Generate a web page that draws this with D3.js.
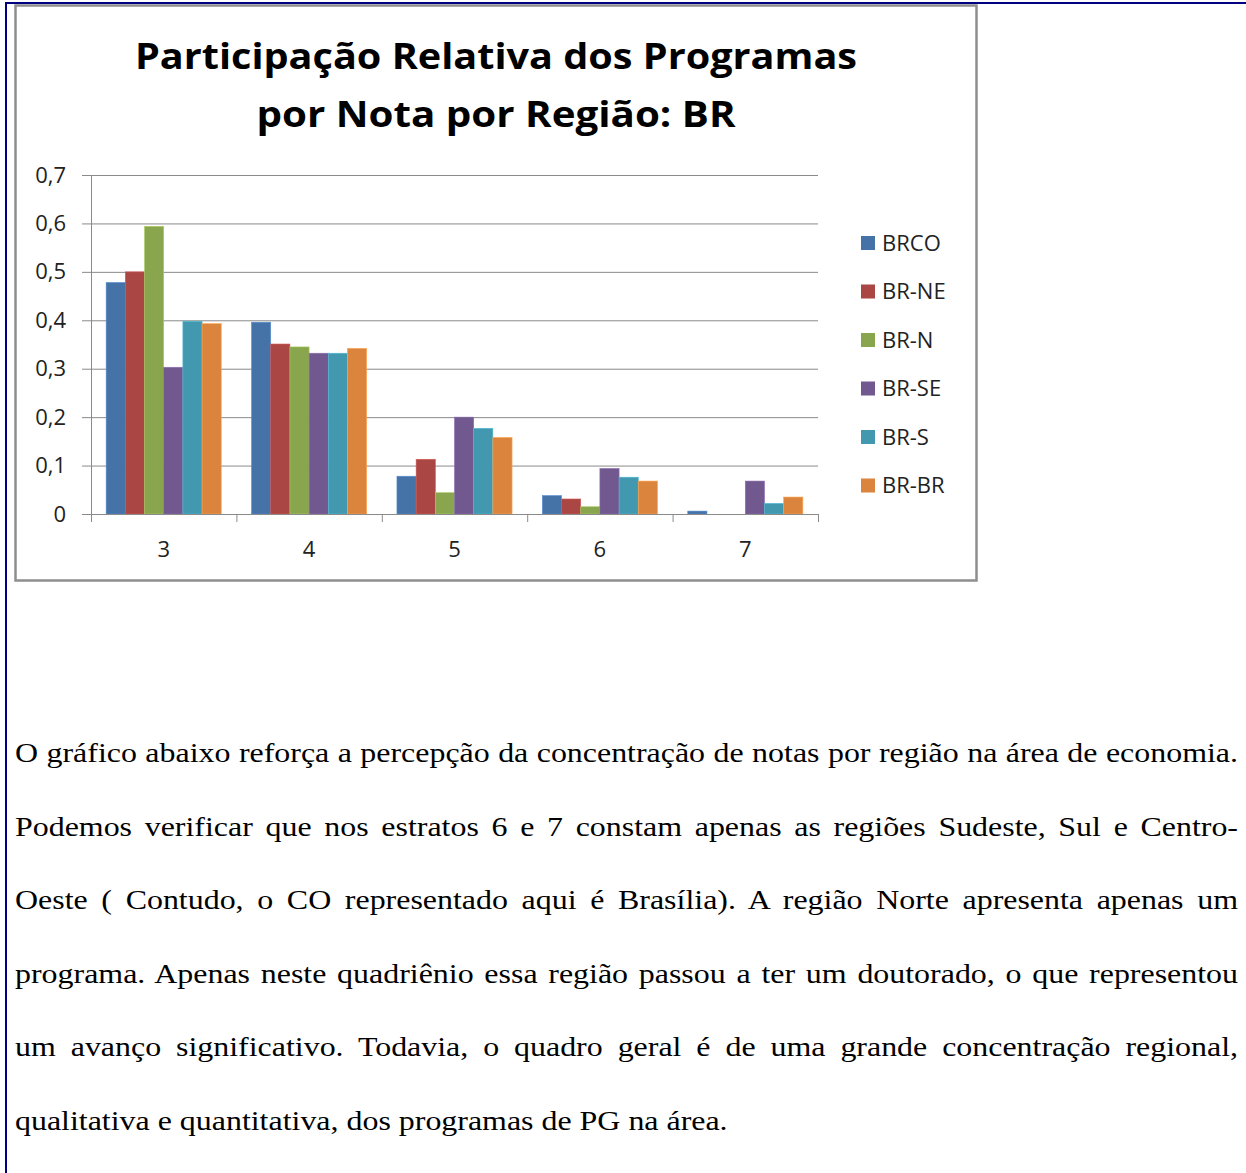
<!DOCTYPE html>
<html>
<head>
<meta charset="utf-8">
<script src="https://cdn.jsdelivr.net/npm/d3@7"></script>
<style>
  body { margin: 0; background: #fff; }
  svg { display: block; }
</style>
</head>
<body>
<div id="chart"></div>
<script>
// chart data
var categories = ["3", "4", "5", "6", "7"];
var seriesNames = ["BRCO", "BR-NE", "BR-N", "BR-SE", "BR-S", "BR-BR"];
var brco = [0.478, 0.396, 0.078, 0.038, 0.006];
var brne = [0.500, 0.351, 0.113, 0.031, 0];
var brn  = [0.594, 0.345, 0.044, 0.015, 0];
var brse = [0.303, 0.332, 0.200, 0.094, 0.068];
var brs  = [0.398, 0.332, 0.177, 0.076, 0.022];
var brbr = [0.393, 0.342, 0.158, 0.068, 0.035];
var yTicks = [0, 0.1, 0.2, 0.3, 0.4, 0.5, 0.6, 0.7];
var yTickLabels = ["0", "0,1", "0,2", "0,3", "0,4", "0,5", "0,6", "0,7"];
var colors = ["#4572A7", "#AA4643", "#89A54E", "#71588F", "#4198AF", "#DB843D"];

var titleLines = ["Participação Relativa dos Programas", "por Nota por Região: BR"];

var paragraph = [
  "O gráfico abaixo reforça a percepção da concentração de notas por região na área de economia.",
  "Podemos verificar que nos estratos 6 e 7 constam apenas as regiões Sudeste, Sul e Centro-",
  "Oeste ( Contudo, o CO representado aqui é Brasília). A região Norte apresenta apenas um",
  "programa. Apenas neste quadriênio essa região passou a ter um doutorado, o que representou",
  "um avanço significativo. Todavia, o quadro geral é de uma grande concentração regional,",
  "qualitativa e quantitativa, dos programas de PG na área."
];

var seriesValues = [brco, brne, brn, brse, brs, brbr];

var svg = d3.select("#chart")
  .append("svg")
    .attr("width", 1246)
    .attr("height", 1173);

// page frame lines
svg.append("line")
  .attr("x1", 5).attr("x2", 1246).attr("y1", 3).attr("y2", 3)
  .attr("stroke", "#000080").attr("stroke-width", 2);
svg.append("line")
  .attr("x1", 6).attr("x2", 6).attr("y1", 2).attr("y2", 1173)
  .attr("stroke", "#000080").attr("stroke-width", 2);

// chart box
svg.append("rect")
  .attr("x", 15.5).attr("y", 5.5)
  .attr("width", 961).attr("height", 575)
  .attr("fill", "#fff")
  .attr("stroke", "#8e8e8e").attr("stroke-width", 2.5);

// title
svg.selectAll(".title")
  .data(titleLines)
  .enter().append("text")
    .attr("class", "title")
    .attr("x", 496)
    .attr("y", function(d, i) { return 69 + i * 58; })
    .attr("text-anchor", "middle")
    .attr("textLength", function(d, i) { return i == 0 ? 722 : 479; })
    .attr("lengthAdjust", "spacingAndGlyphs")
    .style("font-family", "'Open Sans', sans-serif")
    .style("font-weight", "bold")
    .style("font-size", "36px")
    .text(function(d) { return d; });

var plot = {left: 91, top: 175, right: 818, bottom: 514};
var width = plot.right - plot.left,
    height = plot.bottom - plot.top;

var g = svg.append("g")
  .attr("transform", "translate(" + plot.left + "," + plot.top + ")");

var x0 = d3.scaleBand()
  .domain(categories)
  .range([0, width])
  .padding(0);

var x1 = d3.scaleBand()
  .domain(seriesNames)
  .range([0, x0.bandwidth()])
  .paddingInner(0)
  .paddingOuter(0.79);

var y = d3.scaleLinear()
  .domain([0, 0.7])
  .range([height, 0]);

// gridlines
g.append("g")
  .attr("class", "grid")
  .call(d3.axisLeft(y).tickValues(yTicks).tickSize(-width).tickFormat(""))
  .call(function(s) { s.select(".domain").remove(); })
  .selectAll("line")
    .attr("stroke", "#8a8a8a");

// y axis
g.append("g")
  .call(d3.axisLeft(y).tickValues(yTicks).tickSize(9).tickPadding(16)
    .tickFormat(function(d, i) { return yTickLabels[i]; }))
  .call(function(s) {
    s.select(".domain").attr("stroke", "#8a8a8a");
    s.selectAll("line").attr("stroke", "#8a8a8a");
    s.selectAll("text")
      .style("font-family", "'Open Sans', sans-serif")
      .style("font-size", "22px")
      .attr("fill", "#222");
  });

// bars
var groups = g.selectAll(".cat")
  .data(categories)
  .enter().append("g")
    .attr("class", "cat")
    .attr("transform", function(d) { return "translate(" + x0(d) + ",0)"; });

groups.selectAll("rect")
  .data(function(c, ci) {
    return seriesNames.map(function(s, si) { return {s: s, si: si, v: seriesValues[si][ci]}; });
  })
  .enter().append("rect")
    .attr("x", function(d) { return x1(d.s); })
    .attr("y", function(d) { return y(d.v); })
    .attr("width", x1.bandwidth())
    .attr("height", function(d) { return y(0) - y(d.v); })
    .attr("fill", function(d) { return colors[d.si]; })
    .attr("stroke", function(d) { return d3.color(colors[d.si]).brighter(0.6); })
    .attr("stroke-width", 0.6);

// x axis: labels at centres, ticks between categories
var xAxis = g.append("g")
  .attr("transform", "translate(0," + height + ")")
  .call(d3.axisBottom(x0).tickSize(0).tickPadding(27))
  .call(function(s) {
    s.select(".domain").attr("stroke", "#8a8a8a");
    s.selectAll("text")
      .style("font-family", "'Open Sans', sans-serif")
      .style("font-size", "22px")
      .attr("fill", "#222");
  });

var bounds = categories.map(function(c) { return x0(c); }).concat([width]);
xAxis.selectAll(".bound")
  .data(bounds)
  .enter().append("line")
    .attr("class", "bound")
    .attr("x1", function(d) { return d + 0.5; })
    .attr("x2", function(d) { return d + 0.5; })
    .attr("y1", 0).attr("y2", 8)
    .attr("stroke", "#8a8a8a");

// legend
var legend = svg.selectAll(".legend")
  .data(seriesNames)
  .enter().append("g")
    .attr("class", "legend")
    .attr("transform", function(d, i) { return "translate(861," + (243 + i * 48.5) + ")"; });

legend.append("rect")
  .attr("x", 0).attr("y", -7)
  .attr("width", 14).attr("height", 14)
  .attr("fill", function(d, i) { return colors[i]; });

legend.append("text")
  .attr("x", 21).attr("y", 0)
  .attr("dy", "0.36em")
  .style("font-family", "'Open Sans', sans-serif")
  .style("font-size", "22px")
  .attr("fill", "#222")
  .text(function(d) { return d; });

// paragraph below the chart (justified lines)
var para = svg.append("g");
var lines = para.selectAll(".pline")
  .data(paragraph)
  .enter().append("text")
    .attr("class", "pline")
    .style("font-family", "'Liberation Serif', 'Times New Roman', serif")
    .style("font-size", "28px")
    .attr("fill", "#000")
    .text(function(d) { return d; });

var lastW = lines.filter(function(d, i) { return i == paragraph.length - 1; }).node().getComputedTextLength();
var sx = 713 / lastW;

lines.each(function(d, i) {
  var t = d3.select(this);
  t.attr("transform", "translate(15," + (762 + i * 73.5) + ") scale(" + sx + ",1)");
  if (i < paragraph.length - 1) {
    var w = this.getComputedTextLength();
    var spaces = d.split(" ").length - 1;
    t.style("word-spacing", ((1223 / sx - w) / spaces) + "px");
  }
});
</script>
</body>
</html>
